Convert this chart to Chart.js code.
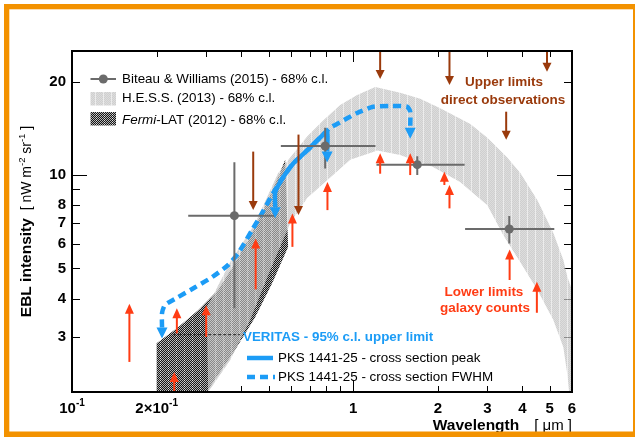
<!DOCTYPE html>
<html>
<head>
<meta charset="utf-8">
<script src="https://cdn.jsdelivr.net/npm/chart.js@4.4.1/dist/chart.umd.min.js"></script>
<style>
  html, body { margin: 0; padding: 0; background: #fff; }
  canvas { display: block; }
</style>
</head>
<body>
<canvas id="ebl" width="635" height="437"></canvas>
<script>
// Biteau & Williams (2015), points with 68% c.l. error bars
const bwWave = [0.378, 0.795, 1.69, 3.59]
const bwEbl = [7.4, 12.4, 10.8, 6.7]
const bwWaveLo = [0.259, 0.553, 1.21, 2.50]
const bwWaveHi = [0.528, 1.20, 2.49, 5.19]
const bwEblLo = [3.72, 10.5, 10.0, 6.02]
const bwEblHi = [11.0, 14.2, 11.5, 7.38]

// H.E.S.S. (2013) band: upper edge left->right, then lower edge right->left
const hessUpWave = [0.302, 0.365, 0.448, 0.541, 0.597, 0.686, 0.782, 0.899, 1.033, 1.198, 1.469, 1.731, 2.04, 2.61, 3.0, 3.53, 3.93, 4.52, 5.15, 5.59, 5.78, 6.0, 6.0]
const hessUpEbl = [3.75, 5.24, 7.0, 10.15, 11.4, 13.3, 15.0, 16.8, 18.1, 19.2, 18.4, 17.6, 16.4, 14.6, 13.2, 11.4, 10.15, 8.3, 6.5, 5.32, 4.69, 4.26, 1.9]
const hessLoWave = [5.86, 5.78, 5.59, 5.15, 4.52, 3.93, 3.42, 3.0, 2.40, 1.93, 1.469, 1.22, 0.976, 0.808, 0.686, 0.597, 0.507, 0.43, 0.365, 0.305]
const hessLoEbl = [2.0, 2.27, 2.79, 3.41, 4.26, 5.24, 6.4, 8.0, 9.5, 10.6, 11.6, 12.0, 11.2, 9.63, 8.43, 7.0, 4.94, 3.41, 2.53, 2.0]

// Fermi-LAT (2012) band, closed outline
const fermiWave = [0.2, 0.238, 0.281, 0.331, 0.380, 0.437, 0.498, 0.541, 0.573, 0.587, 0.515, 0.448, 0.380, 0.315, 0.302, 0.29, 0.2]
const fermiEbl = [2.87, 3.23, 3.67, 4.26, 5.2, 6.5, 8.3, 9.85, 11.2, 5.86, 4.48, 3.48, 2.73, 2.13, 2.0, 1.85, 1.85]

// VERITAS 95% c.l. upper limits (PKS 1441-25)
const peakWave = [0.528, 0.528, 0.564, 0.612, 0.686, 0.763, 0.808, 0.808]
const peakEbl = [7.88, 8.81, 9.85, 10.9, 12.0, 13.2, 13.8, 11.9]
const fwhmWave = [0.209, 0.209, 0.214, 0.238, 0.274, 0.315, 0.359, 0.39, 0.437, 0.474, 0.519, 0.564, 0.612, 0.686, 0.763, 0.828, 0.899, 1.033, 1.178, 1.354, 1.556, 1.595, 1.595]
const fwhmEbl = [3.23, 3.59, 3.81, 4.04, 4.35, 4.69, 5.13, 5.6, 6.65, 7.54, 8.75, 9.85, 10.9, 12.0, 13.2, 14.2, 14.8, 15.85, 16.6, 16.7, 16.6, 16.0, 14.2]

// thin dotted segment
const dotWave = [0.229, 0.396]
const dotEbl = [3.06, 3.06]

// upper limits, direct observations (arrow tail -> tip)
const ulWave = [0.441, 0.639, 1.247, 2.20, 4.89, 3.50]
const ulFrom = [11.9, 13.5, 25.1, 25.1, 25.1, 16.0]
const ulTo = [7.71, 7.43, 20.4, 19.5, 21.5, 13.0]

// lower limits, galaxy counts (arrow tail -> tip)
const llWave = [0.16, 0.236, 0.30, 0.231, 0.45, 0.608, 0.81, 1.247, 1.595, 2.11, 2.20, 3.60, 4.50]
const llFrom = [2.5, 3.09, 3.01, 1.9, 4.28, 5.87, 7.71, 10.1, 10.0, 9.29, 7.81, 4.59, 3.6]
const llTo = [3.85, 3.72, 3.81, 2.32, 6.25, 7.52, 9.5, 11.75, 11.75, 10.25, 9.29, 5.76, 4.53]

// axes
const xTicks = [0.1, 0.2, 0.3, 0.4, 0.5, 0.6, 0.7, 0.8, 0.9, 1, 2, 3, 4, 5, 6]
const xLabelVals = [0.1, 0.2, 1, 2, 3, 4, 5, 6]
const xLabelBase = ['10', '2\u00d710', '1', '2', '3', '4', '5', '6']
const xLabelSup = ['-1', '-1', '', '', '', '', '', '']
const yTicks = [2, 3, 4, 5, 6, 7, 8, 9, 10, 20]
const yLabels = [3, 4, 5, 6, 7, 8, 10, 20]

const FONT = "'Liberation Sans', Arial, sans-serif"
const blue = '#1c9cf6'
const brown = '#9a3a0c'
const red = '#ff3c14'
const gray = '#6b6b6b'

const canvas = document.getElementById('ebl')
const ctx0 = canvas.getContext('2d')

function pattern (w, h, pick) {
  const c = document.createElement('canvas')
  c.width = w
  c.height = h
  const g = c.getContext('2d')
  for (let i = 0; i < w; i++) {
    for (let j = 0; j < h; j++) {
      g.fillStyle = pick(i, j)
      g.fillRect(i, j, 1, 1)
    }
  }
  return ctx0.createPattern(c, 'repeat')
}

const hessFill = pattern(8, 2, (i, j) => i === 7 ? 'rgba(228,228,228,0.7)' : ((i + j) % 2 ? 'rgba(186,186,186,0.7)' : 'rgba(206,206,206,0.7)'))
const fermiFill = pattern(8, 8, (i, j) => (i === 0 && j % 2 === 0) ? '#dedede' : ((i + j) % 2 ? '#161616' : '#b4b4b4'))

const pts = (xs, ys) => xs.map((v, i) => ({ x: v, y: ys[i] }))

function arrow (ctx, x, y0, y1, color, width, headW, headL) {
  const dir = Math.sign(y1 - y0)
  ctx.strokeStyle = color
  ctx.fillStyle = color
  ctx.lineWidth = width
  ctx.beginPath()
  ctx.moveTo(x, y0)
  ctx.lineTo(x, y1 - dir * headL * 0.8)
  ctx.stroke()
  ctx.beginPath()
  ctx.moveTo(x, y1)
  ctx.lineTo(x - headW / 2, y1 - dir * headL)
  ctx.lineTo(x + headW / 2, y1 - dir * headL)
  ctx.closePath()
  ctx.fill()
}

function head (ctx, x, y, color, w, l) {
  ctx.fillStyle = color
  ctx.beginPath()
  ctx.moveTo(x - w / 2, y)
  ctx.lineTo(x + w / 2, y)
  ctx.lineTo(x, y + l)
  ctx.closePath()
  ctx.fill()
}

function text (ctx, s, x, y, font, color, align) {
  ctx.font = font
  ctx.fillStyle = color
  ctx.textAlign = align || 'left'
  ctx.textBaseline = 'middle'
  ctx.fillText(s, x, y)
}

// draws pieces [string, font, raise] one after the other from x
function pieces (ctx, list, x, y) {
  ctx.textAlign = 'left'
  ctx.textBaseline = 'alphabetic'
  let cx = x
  list.forEach(p => {
    ctx.font = p[1]
    ctx.fillText(p[0], cx, y + p[2])
    cx += ctx.measureText(p[0]).width
  })
}

function width (ctx, list) {
  let total = 0
  list.forEach(p => { ctx.font = p[1]; total += ctx.measureText(p[0]).width })
  return total
}

const eblPlugin = {
  id: 'eblPlugin',
  beforeDatasetsDraw (chart) {
    const { ctx, chartArea: a, scales: { x, y } } = chart
    ctx.save()
    ctx.strokeStyle = '#000'
    ctx.lineWidth = 1
    ctx.beginPath()
    x.ticks.forEach(t => {
      const px = Math.round(x.getPixelForValue(t.value)) + 0.5
      const len = (t.value === 0.1 || t.value === 1) ? 11 : 6
      ctx.moveTo(px, a.bottom)
      ctx.lineTo(px, a.bottom - len)
      ctx.moveTo(px, a.top)
      ctx.lineTo(px, a.top + len)
    })
    y.ticks.forEach(t => {
      const py = Math.round(y.getPixelForValue(t.value)) + 0.5
      const len = t.value === 10 ? 15 : 8
      ctx.moveTo(a.left, py)
      ctx.lineTo(a.left + len, py)
      ctx.moveTo(a.right, py)
      ctx.lineTo(a.right - len, py)
    })
    ctx.stroke()
    ctx.restore()
  },
  beforeDatasetDraw (chart, args) {
    if (chart.data.datasets[args.index].label !== 'bw') return
    const { ctx, scales: { x, y } } = chart
    ctx.save()
    ctx.strokeStyle = gray
    ctx.lineWidth = 2
    ctx.beginPath()
    bwWave.forEach((w, i) => {
      const px = x.getPixelForValue(w)
      const py = y.getPixelForValue(bwEbl[i])
      ctx.moveTo(x.getPixelForValue(bwWaveLo[i]), py)
      ctx.lineTo(x.getPixelForValue(bwWaveHi[i]), py)
      ctx.moveTo(px, y.getPixelForValue(bwEblLo[i]))
      ctx.lineTo(px, y.getPixelForValue(bwEblHi[i]))
    })
    ctx.stroke()
    ctx.restore()
  },
  afterDatasetsDraw (chart) {
    const { ctx, chartArea: a, scales: { x, y } } = chart
    ctx.save()
    ctx.beginPath()
    ctx.rect(a.left, a.top, a.right - a.left, a.bottom - a.top)
    ctx.clip()
    ulWave.forEach((w, i) => {
      arrow(ctx, x.getPixelForValue(w), y.getPixelForValue(ulFrom[i]), y.getPixelForValue(ulTo[i]), brown, 2, 9, 9)
    })
    llWave.forEach((w, i) => {
      arrow(ctx, x.getPixelForValue(w), y.getPixelForValue(llFrom[i]), y.getPixelForValue(llTo[i]), red, 2, 9, 10)
    })
    // arrow heads at the ends of the VERITAS limits
    const ends = [[peakWave, peakEbl], [fwhmWave, fwhmEbl]]
    ends.forEach(([xs, ys]) => {
      const n = xs.length - 1
      head(ctx, x.getPixelForValue(xs[0]), y.getPixelForValue(ys[0]), blue, 11, 11)
      head(ctx, x.getPixelForValue(xs[n]), y.getPixelForValue(ys[n]), blue, 11, 11)
    })
    ctx.restore()
  },
  afterDraw (chart) {
    const { ctx, chartArea: a, scales: { x } } = chart
    ctx.save()

    // frame
    ctx.strokeStyle = '#000'
    ctx.lineWidth = 2
    ctx.strokeRect(a.left, a.top, a.right - a.left, a.bottom - a.top)

    // x tick labels with superscripts
    ctx.fillStyle = '#000'
    xLabelVals.forEach((v, i) => {
      const px = x.getPixelForValue(v)
      const list = [[xLabelBase[i], 'bold 15px ' + FONT, 0]]
      if (xLabelSup[i]) list.push([xLabelSup[i], 'bold 10px ' + FONT, -7])
      pieces(ctx, list, px - width(ctx, list) / 2, 413)
    })

    // axis titles
    const xr = [['[ \u03bcm ]', '15px ' + FONT, 0]]
    const xw = width(ctx, xr)
    pieces(ctx, xr, a.right - xw, 430)
    const xt = [['Wavelength', 'bold 15.5px ' + FONT, 0]]
    pieces(ctx, xt, a.right - xw - 15 - width(ctx, xt), 430)

    ctx.save()
    ctx.translate(25, (a.top + a.bottom) / 2)
    ctx.rotate(-Math.PI / 2)
    const yt = [
      ['EBL intensity', 'bold 15.5px ' + FONT, 0],
      ['  [ nW m', '14px ' + FONT, 0],
      ['-2', '9.5px ' + FONT, -6],
      [' sr', '14px ' + FONT, 0],
      ['-1', '9.5px ' + FONT, -6],
      [' ]', '14px ' + FONT, 0]
    ]
    pieces(ctx, yt, -width(ctx, yt) / 2, 5.5)
    ctx.restore()

    // legend, top left
    ctx.strokeStyle = gray
    ctx.lineWidth = 2
    ctx.beginPath()
    ctx.moveTo(90.5, 79)
    ctx.lineTo(116, 79)
    ctx.stroke()
    ctx.fillStyle = gray
    ctx.beginPath()
    ctx.arc(103.3, 79, 4.5, 0, Math.PI * 2)
    ctx.fill()
    ctx.fillStyle = hessFill
    ctx.fillRect(90.5, 92, 25.5, 13.5)
    ctx.fillStyle = fermiFill
    ctx.fillRect(90.5, 112, 25.5, 13.5)
    text(ctx, 'Biteau & Williams (2015) - 68% c.l.', 122, 79, '13.4px ' + FONT, '#000')
    text(ctx, 'H.E.S.S. (2013) - 68% c.l.', 122, 98.5, '13.4px ' + FONT, '#000')
    ctx.fillStyle = '#000'
    pieces(ctx, [['Fermi', 'italic 13.4px ' + FONT, 0], ['-LAT (2012) - 68% c.l.', '13.4px ' + FONT, 0]], 122, 123.5)

    // legend, VERITAS
    text(ctx, 'VERITAS - 95% c.l. upper limit', 243, 337, 'bold 13.4px ' + FONT, blue)
    ctx.strokeStyle = blue
    ctx.lineWidth = 4.5
    ctx.beginPath()
    ctx.moveTo(247, 358)
    ctx.lineTo(273, 358)
    ctx.stroke()
    ctx.setLineDash([8, 5])
    ctx.beginPath()
    ctx.moveTo(247, 377)
    ctx.lineTo(275, 377)
    ctx.stroke()
    ctx.setLineDash([])
    text(ctx, 'PKS 1441-25 - cross section peak', 278, 358, '13.4px ' + FONT, '#000')
    text(ctx, 'PKS 1441-25 - cross section FWHM', 278, 377, '13.4px ' + FONT, '#000')

    // annotations
    text(ctx, 'Upper limits', 504, 82, 'bold 13.5px ' + FONT, brown, 'center')
    text(ctx, 'direct observations', 503, 100, 'bold 13.5px ' + FONT, brown, 'center')
    text(ctx, 'Lower limits', 484, 292, 'bold 13.5px ' + FONT, red, 'center')
    text(ctx, 'galaxy counts', 485, 308, 'bold 13.5px ' + FONT, red, 'center')

    // orange slide frame
    ctx.fillStyle = '#f39200'
    ctx.fillRect(4, 4, 631, 5.3)
    ctx.fillRect(4, 4, 5.3, 433)
    ctx.fillRect(4, 431.5, 631, 6)
    ctx.fillRect(633, 4, 2, 430)
    ctx.restore()
  }
}

new Chart(canvas, {
  type: 'scatter',
  data: {
    datasets: [
      {
        label: 'bw',
        data: pts(bwWave, bwEbl),
        order: 1,
        pointRadius: 4.5,
        pointBackgroundColor: gray,
        pointBorderWidth: 0
      },
      {
        label: 'peak',
        data: pts(peakWave, peakEbl),
        order: 2,
        showLine: true,
        pointRadius: 0,
        borderColor: blue,
        borderWidth: 4.5,
        tension: 0.2
      },
      {
        label: 'fwhm',
        data: pts(fwhmWave, fwhmEbl),
        order: 3,
        showLine: true,
        pointRadius: 0,
        borderColor: blue,
        borderWidth: 4.5,
        borderDash: [8, 5],
        tension: 0.2
      },
      {
        label: 'dotted',
        data: pts(dotWave, dotEbl),
        order: 4,
        showLine: true,
        pointRadius: 0,
        borderColor: '#222',
        borderWidth: 1,
        borderDash: [3, 2]
      },
      {
        label: 'hess',
        data: pts(hessUpWave.concat(hessLoWave), hessUpEbl.concat(hessLoEbl)),
        order: 5,
        showLine: true,
        pointRadius: 0,
        borderColor: 'rgba(0,0,0,0)',
        backgroundColor: hessFill,
        fill: 'shape'
      },
      {
        label: 'fermi',
        data: pts(fermiWave, fermiEbl),
        order: 6,
        showLine: true,
        pointRadius: 0,
        borderColor: 'rgba(0,0,0,0)',
        backgroundColor: fermiFill,
        fill: 'shape'
      }
    ]
  },
  options: {
    responsive: false,
    animation: false,
    layout: { padding: { top: 51, right: 63, left: 0, bottom: 0 } },
    plugins: { legend: { display: false }, tooltip: { enabled: false } },
    scales: {
      x: {
        type: 'logarithmic',
        min: 0.1,
        max: 6,
        grid: { display: false, drawTicks: false },
        border: { display: false },
        ticks: { display: false },
        afterBuildTicks: s => { s.ticks = xTicks.map(v => ({ value: v })) },
        afterFit: s => { s.height = 45 }
      },
      y: {
        type: 'logarithmic',
        min: 2,
        max: 25.1,
        grid: { display: false, drawTicks: false },
        border: { display: false },
        ticks: {
          autoSkip: false,
          padding: 6,
          color: '#000',
          font: { family: FONT, size: 15, weight: 'bold' },
          callback: v => yLabels.includes(v) ? String(v) : ''
        },
        afterBuildTicks: s => { s.ticks = yTicks.map(v => ({ value: v })) },
        afterFit: s => { s.width = 72 }
      }
    }
  },
  plugins: [eblPlugin]
})
</script>
</body>
</html>
